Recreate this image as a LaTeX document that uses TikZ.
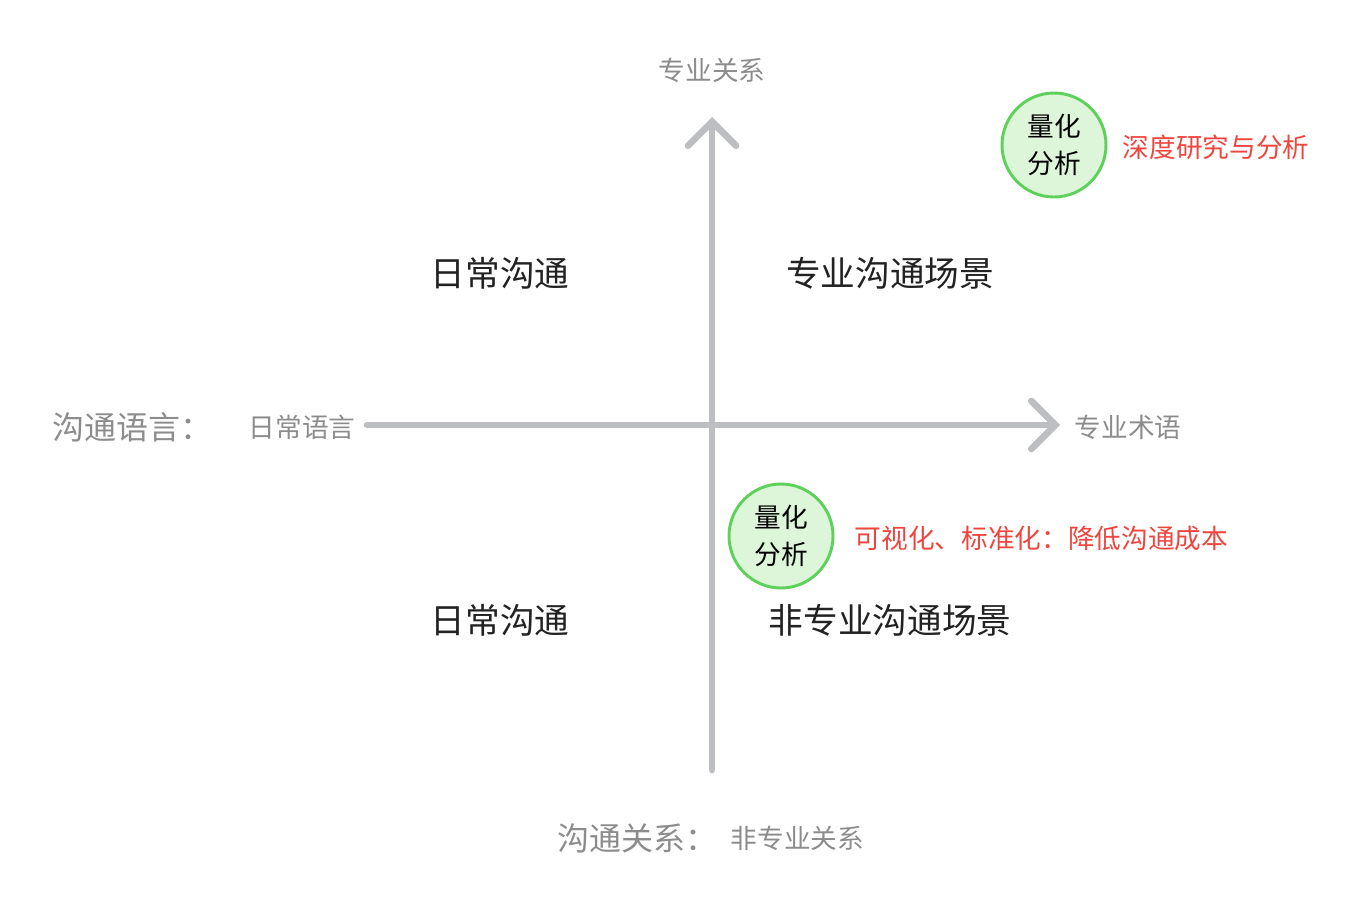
\documentclass[tikz,border=0pt]{standalone}
\usepackage{fontspec}
\setmainfont{Noto Sans CJK SC}
\usetikzlibrary{arrows.meta}
\definecolor{axisgray}{HTML}{BDBEC2}
\definecolor{labelgray}{HTML}{8C8C8C}
\definecolor{quadtext}{HTML}{222222}
\definecolor{notered}{HTML}{F0453F}
\definecolor{bubblefill}{HTML}{DDF5D8}
\definecolor{bubbleline}{HTML}{5DD15A}
\tikzset{
  axis/.style={draw=axisgray, line width=5pt, line cap=round,
    -{Straight Barb[length=18pt, width=36pt, line cap=round]}},
  quad/.style={text=quadtext, font=\fontsize{26}{30}\selectfont},
  axislabel/.style={text=labelgray, font=\fontsize{20}{24}\selectfont},
  axistitle/.style={text=labelgray, font=\fontsize{24}{28}\selectfont},
  note/.style={text=notered, font=\fontsize{20}{24}\selectfont, anchor=west},
  bubble/.style={circle, draw=bubbleline, fill=bubblefill, line width=2.2pt,
    minimum size=78pt, inner sep=0pt, align=center,
    font=\fontsize{20}{28}\selectfont}
}
\begin{document}
\begin{tikzpicture}[x=0.75pt, y=-0.75pt]
	\useasboundingbox (0,0) rectangle (1370,908);

	\coordinate (vbot) at (712,770);
	\coordinate (vtop) at (712,117);
	\coordinate (hleft) at (367,425);
	\coordinate (hright) at (1060,425);
	\draw[axis] (vbot) -- (vtop);
	\draw[axis] (hleft) -- (hright);

	\node (ytop)[axislabel] at (712,70) {专业关系};
	\node (xright)[axislabel] at (1128,427) {专业术语};
	\node (xleft)[axislabel] at (302,427) {日常语言};
	\node (xtitle)[axistitle] at (132,427) {沟通语言：};
	\node (ybot)[axistitle, anchor=east] at (722,838) {沟通关系：};
	\node (ybotval)[axislabel, anchor=west] at (726,838) {非专业关系};

	\node (q1)[quad] at (500,273) {日常沟通};
	\node (q2)[quad] at (890,273) {专业沟通场景};
	\node (q3)[quad] at (500,620) {日常沟通};
	\node (q4)[quad] at (890,620) {非专业沟通场景};

	\node (b1)[bubble] at (1054,145) {量化\\分析};
	\node (b2)[bubble] at (781,536) {量化\\分析};
	\node (n1)[note] at (1118,147) {深度研究与分析};
	\node (n2)[note] at (850,538) {可视化、标准化：降低沟通成本};
\end{tikzpicture}
\end{document}
